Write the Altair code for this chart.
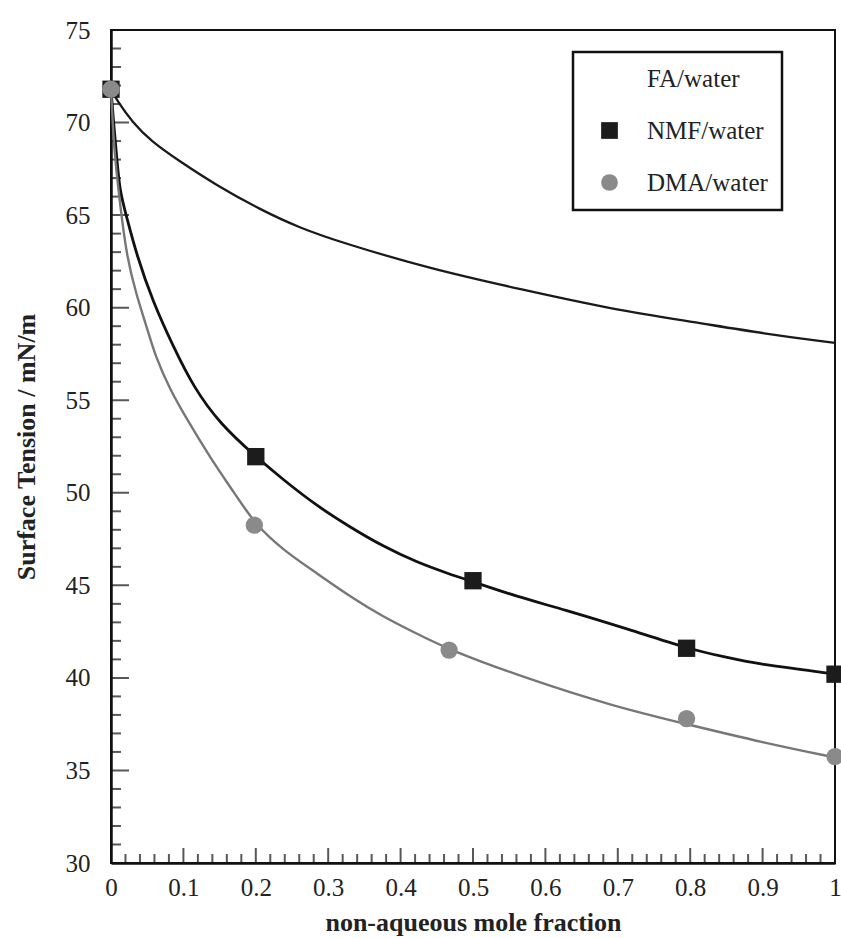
import altair as alt
import pandas as pd

SERIES = ["FA/water", "NMF/water", "DMA/water"]

# Smooth curves
FA_X = [0, 0.008, 0.03, 0.055, 0.095, 0.146, 0.206, 0.261, 0.32, 0.441, 0.565, 0.694, 0.809, 0.901, 1.0]
FA_Y = [71.8, 71.2, 70.0, 69.0, 67.9, 66.6, 65.3, 64.3, 63.5, 62.1, 61.0, 59.9, 59.2, 58.6, 58.1]

NMF_X = [0, 0.004, 0.008, 0.012, 0.022, 0.035, 0.058, 0.086, 0.114, 0.151, 0.2, 0.238, 0.284,
         0.33, 0.376, 0.422, 0.468, 0.5, 0.56, 0.625, 0.717, 0.795, 0.85, 0.901, 0.956, 1.0]
NMF_Y = [71.8, 69.8, 68.1, 66.3, 64.85, 62.9, 60.3, 57.9, 55.7, 53.7, 51.95, 50.7, 49.3,
         48.15, 47.1, 46.25, 45.6, 45.2, 44.4, 43.7, 42.6, 41.6, 41.1, 40.7, 40.45, 40.2]

DMA_X = [0, 0.003, 0.0055, 0.013, 0.022, 0.035, 0.049, 0.061, 0.081, 0.109, 0.137, 0.171, 0.2,
         0.238, 0.284, 0.33, 0.376, 0.422, 0.468, 0.579, 0.694, 0.795, 0.901, 1.0]
DMA_Y = [71.8, 69.5, 68.1, 65.4, 62.7, 60.7, 59.0, 57.4, 55.6, 53.7, 51.9, 49.95, 48.25,
         46.9, 45.66, 44.4, 43.3, 42.4, 41.5, 39.9, 38.47, 37.5, 36.5, 35.7]

# Measured points (markers)
NMF_MX = [0, 0.2, 0.5, 0.795, 1.0]
NMF_MY = [71.8, 51.95, 45.25, 41.6, 40.2]
DMA_MX = [0, 0.198, 0.467, 0.795, 1.0]
DMA_MY = [71.8, 48.25, 41.5, 37.8, 35.75]

X_LABELS = [0, 0.1, 0.2, 0.3, 0.4, 0.5, 0.6, 0.7, 0.8, 0.9, 1]
Y_LABELS = [30, 35, 40, 45, 50, 55, 60, 65, 70, 75]
X_MAJOR = [0.1, 0.2, 0.3, 0.4, 0.5, 0.6, 0.7, 0.8, 0.9]
X_MINOR = [round(0.02 * i, 2) for i in range(1, 50) if i % 5]
Y_MAJOR = [35, 40, 45, 50, 55, 60, 65, 70]
Y_MINOR = [v for v in range(31, 75) if v % 5]

curves = pd.DataFrame(
    [("FA/water", x, y) for x, y in zip(FA_X, FA_Y)]
    + [("NMF/water", x, y) for x, y in zip(NMF_X, NMF_Y)]
    + [("DMA/water", x, y) for x, y in zip(DMA_X, DMA_Y)],
    columns=["series", "x", "y"],
)
markers = pd.DataFrame(
    [("NMF/water", x, y) for x, y in zip(NMF_MX, NMF_MY)]
    + [("DMA/water", x, y) for x, y in zip(DMA_MX, DMA_MY)],
    columns=["series", "x", "y"],
)
xmaj = pd.DataFrame({"x": X_MAJOR})
xmin = pd.DataFrame({"x": X_MINOR})
ymaj = pd.DataFrame({"y": Y_MAJOR})
ymin = pd.DataFrame({"y": Y_MINOR})

W, H = 724, 833
SERIF = "Liberation Serif"

xs = alt.Scale(domain=[0, 1], nice=False, zero=False)
ys = alt.Scale(domain=[30, 75], nice=False, zero=False)

xax = alt.Axis(
    values=X_LABELS, format="~g", ticks=False, grid=False,
    domainColor="#111", domainWidth=2.5,
    labelFont=SERIF, labelFontSize=25, labelColor="#222", labelPadding=12,
    labelFlush=False, labelOverlap=False,
    title="non-aqueous mole fraction", titleFont=SERIF, titleFontSize=26,
    titleFontWeight="bold", titleColor="#222", titlePadding=9,
)
yax = alt.Axis(
    values=Y_LABELS, ticks=False, grid=False,
    domainColor="#111", domainWidth=2.5,
    labelFont=SERIF, labelFontSize=25, labelColor="#222", labelPadding=21,
    labelFlush=False, labelOverlap=False,
    title="Surface Tension / mN/m", titleFont=SERIF, titleFontSize=26,
    titleFontWeight="bold", titleColor="#222", titlePadding=26,
)

X = alt.X("x:Q", scale=xs, axis=xax)
Y = alt.Y("y:Q", scale=ys, axis=yax)


def curve(name, color, width):
    return (
        alt.Chart(curves)
        .transform_filter(alt.datum.series == name)
        .mark_line(color=color, strokeWidth=width, interpolate="basis")
        .encode(x=X, y=Y, order="x:Q")
    )


legend = alt.Legend(
    title=None, orient="none", legendX=462, legendY=22,
    strokeColor="#111", fillColor="white", padding=14,
    symbolOffset=10, labelOffset=25, rowPadding=26,
    labelFont=SERIF, labelFontSize=25, labelColor="#222",
    symbolSize=280, symbolStrokeWidth=0, labelLimit=300,
)

points = (
    alt.Chart(markers)
    .mark_point(filled=True, opacity=1, size=300)
    .encode(
        x=X, y=Y,
        fill=alt.Fill("series:N", scale=alt.Scale(domain=SERIES, range=["white", "#1c1c1c", "#8a8a8a"]), legend=legend),
        shape=alt.Shape("series:N", scale=alt.Scale(domain=SERIES, range=["circle", "square", "circle"]), legend=legend),
    )
)

xtick_major = alt.Chart(xmaj).mark_tick(orient="vertical", size=30, thickness=2, color="#111", clip=True).encode(
    x=X, y=alt.YDatum(30, type="quantitative", scale=ys, axis=yax))
xtick_minor = alt.Chart(xmin).mark_tick(orient="vertical", size=18, thickness=2, color="#111", clip=True).encode(
    x=X, y=alt.YDatum(30, type="quantitative", scale=ys, axis=yax))
ytick_major = alt.Chart(ymaj).mark_tick(orient="horizontal", size=36, thickness=2, color="#111", clip=True).encode(
    y=Y, x=alt.XDatum(0, type="quantitative", scale=xs, axis=xax))
ytick_minor = alt.Chart(ymin).mark_tick(orient="horizontal", size=20, thickness=2, color="#111", clip=True).encode(
    y=Y, x=alt.XDatum(0, type="quantitative", scale=xs, axis=xax))

chart = (
    alt.layer(
        xtick_major, xtick_minor, ytick_major, ytick_minor,
        curve("FA/water", "#1a1a1a", 2.3),
        curve("NMF/water", "#111111", 2.8),
        curve("DMA/water", "#777777", 2.4),
        points,
    )
    .properties(
        width=W, height=H, autosize="none",
        padding={"left": 111, "top": 30, "right": 6, "bottom": 75},
        background="white",
    )
    .configure_view(stroke="#111", strokeWidth=2)
    .configure_axis(labelFont=SERIF, titleFont=SERIF)
    .configure_legend(strokeWidth=2.5, cornerRadius=0)
)

chart.save("out.html", embed_options={"renderer": "svg", "actions": False})
